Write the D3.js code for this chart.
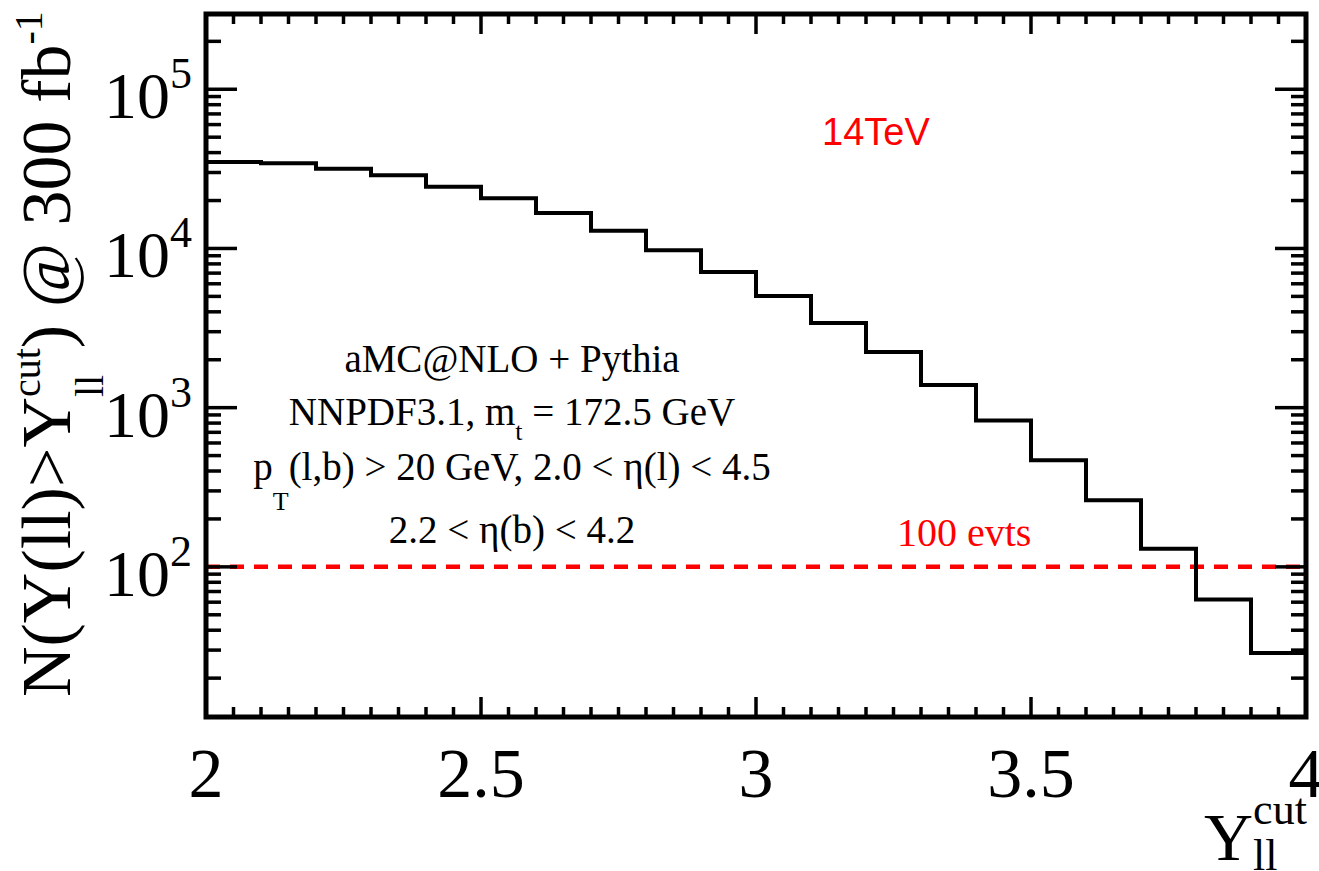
<!DOCTYPE html>
<html><head><meta charset="utf-8">
<script src="https://cdn.jsdelivr.net/npm/d3@7"></script>
<style>body{margin:0;background:#fff;} svg{display:block;}</style>
</head><body><svg id="c" width="1319" height="871"></svg>
<script>
// ---- data ----
const binEdges = [2.0,2.1,2.2,2.3,2.4,2.5,2.6,2.7,2.8,2.9,3.0,3.1,3.2,3.3,3.4,3.5,3.6,3.7,3.8,3.9,4.0];
const counts = [34900,34300,31700,28800,24400,20700,16700,12900,9730,7110,5020,3400,2240,1390,832,468,262,130,62.4,28.8];
const xTickValues = [2, 2.5, 3, 3.5, 4];
const xTickLabels = ["2","2.5","3","3.5","4"];
const yDecadeExponents = [2,3,4,5];
const thresholdValue = 100;
const thresholdLabel = "100 evts";
const energyLabel = "14TeV";
const xDomain = [2, 4];
const yDomain = [11.4, 2.97e5];

// ---- layout ----
const L = 206, R = 1306, T = 14, B = 717;
const serif = "'Liberation Serif','Times New Roman',serif";
const sans = "'Liberation Sans',Arial,sans-serif";

const svg = d3.select("#c");
const x = d3.scaleLinear().domain(xDomain).range([L, R]);
const y = d3.scaleLog().domain(yDomain).range([B, T]);

// histogram
const pts = counts.map((c,i)=>[binEdges[i], c]);
pts.push([binEdges[binEdges.length-1], counts[counts.length-1]]);
const clip = svg.append("clipPath").attr("id","pc").append("rect")
  .attr("x",L).attr("y",T).attr("width",R-L).attr("height",B-T);

// threshold dashed line
svg.append("line")
  .attr("x1", x(xDomain[0])).attr("x2", x(xDomain[1]))
  .attr("y1", y(thresholdValue)).attr("y2", y(thresholdValue))
  .attr("stroke","#ff0000").attr("stroke-width",4.5)
  .attr("stroke-dasharray","14,10");

svg.append("path")
  .datum(pts)
  .attr("clip-path","url(#pc)")
  .attr("fill","none").attr("stroke","#000").attr("stroke-width",4)
  .attr("d", d3.line().x(d=>x(d[0])).y(d=>y(d[1])).curve(d3.curveStepAfter));

// ticks
const tickG = svg.append("g").attr("stroke","#000").attr("stroke-width",3.5);
const xMinor = d3.range(0, 41).map(i => xDomain[0] + i*0.05);
xMinor.forEach(v => {
  const isMajor = xTickValues.some(t => Math.abs(t-v) < 1e-9);
  const len = isMajor ? 20 : 10;
  tickG.append("line").attr("x1",x(v)).attr("x2",x(v)).attr("y1",B).attr("y2",B-len);
  tickG.append("line").attr("x1",x(v)).attr("x2",x(v)).attr("y1",T).attr("y2",T+len);
});
const yTicksAll = y.ticks();
yTicksAll.forEach(v => {
  const yy = y(v);
  if (yy < T-0.5 || yy > B+0.5) return;
  const lg = Math.log10(v);
  const isMajor = Math.abs(lg - Math.round(lg)) < 1e-9;
  const len = isMajor ? 31 : 15;
  tickG.append("line").attr("x1",L).attr("x2",L+len).attr("y1",yy).attr("y2",yy);
  tickG.append("line").attr("x1",R).attr("x2",R-len).attr("y1",yy).attr("y2",yy);
});

// frame
svg.append("rect").attr("x",L).attr("y",T).attr("width",R-L).attr("height",B-T)
  .attr("fill","none").attr("stroke","#000").attr("stroke-width",5);

// x tick labels
xTickValues.forEach((v,i)=>{
  svg.append("text").attr("x",x(v)).attr("y",797).attr("text-anchor","middle")
    .attr("font-family",serif).attr("font-size",70).text(xTickLabels[i]);
});

// y tick labels 10^n
yDecadeExponents.forEach(e=>{
  const yy = y(Math.pow(10,e));
  const t = svg.append("text").attr("x",192).attr("y",yy+29).attr("text-anchor","end")
    .attr("font-family",serif).attr("font-size",66);
  t.append("tspan").text("10");
  t.append("tspan").attr("font-size",44).attr("dy",-30).text(String(e));
});

// x axis title
{
  const t = svg.append("text").attr("x",1204).attr("y",860)
    .attr("font-family",serif).attr("font-size",68);
  t.append("tspan").text("Y");
  const sub = t.append("tspan").attr("font-size",44).attr("dy",10).text("ll");
  const w = sub.node().getComputedTextLength();
  t.append("tspan").attr("font-size",44).attr("dx",-w).attr("dy",-46).text("cut");
}

// y axis title
{
  const t = svg.append("text").attr("transform","translate(70,697) rotate(-90)")
    .attr("font-family",serif).attr("font-size",70);
  t.append("tspan").text("N(Y(ll)>Y");
  const sub = t.append("tspan").attr("font-size",40).attr("dy",33).text("ll");
  const w = sub.node().getComputedTextLength();
  t.append("tspan").attr("font-size",40).attr("dx",-w).attr("dy",-63).text("cut");
  t.append("tspan").attr("dy",30).text(") @ 300 fb");
  t.append("tspan").attr("font-size",40).attr("dy",-28).text("-1");
}

// annotations
const cx = 512;
const ann = svg.append("g").attr("font-family",serif).attr("font-size",39).attr("fill","#000");
ann.append("text").attr("x",cx).attr("y",372).attr("text-anchor","middle").text("aMC@NLO + Pythia");
{
  const t = ann.append("text").attr("x",cx).attr("y",425).attr("text-anchor","middle");
  t.append("tspan").text("NNPDF3.1, m");
  t.append("tspan").attr("font-size",26).attr("dy",15).text("t");
  t.append("tspan").attr("dy",-15).text(" = 172.5 GeV");
}
{
  const t = ann.append("text").attr("x",cx).attr("y",480).attr("text-anchor","middle");
  t.append("tspan").text("p");
  t.append("tspan").attr("font-size",26).attr("dy",30).text("T");
  t.append("tspan").attr("dy",-30).text("(l,b) > 20 GeV, 2.0 < η(l) < 4.5");
}
ann.append("text").attr("x",cx).attr("y",543).attr("text-anchor","middle").text("2.2 < η(b) < 4.2");

// red labels
svg.append("text").attr("x",822).attr("y",145).attr("font-family",sans).attr("font-size",38)
  .attr("fill","#ff0000").text(energyLabel);
svg.append("text").attr("x",897).attr("y",546).attr("font-family",serif).attr("font-size",40)
  .attr("fill","#ff0000").text(thresholdLabel);
</script></body></html>
